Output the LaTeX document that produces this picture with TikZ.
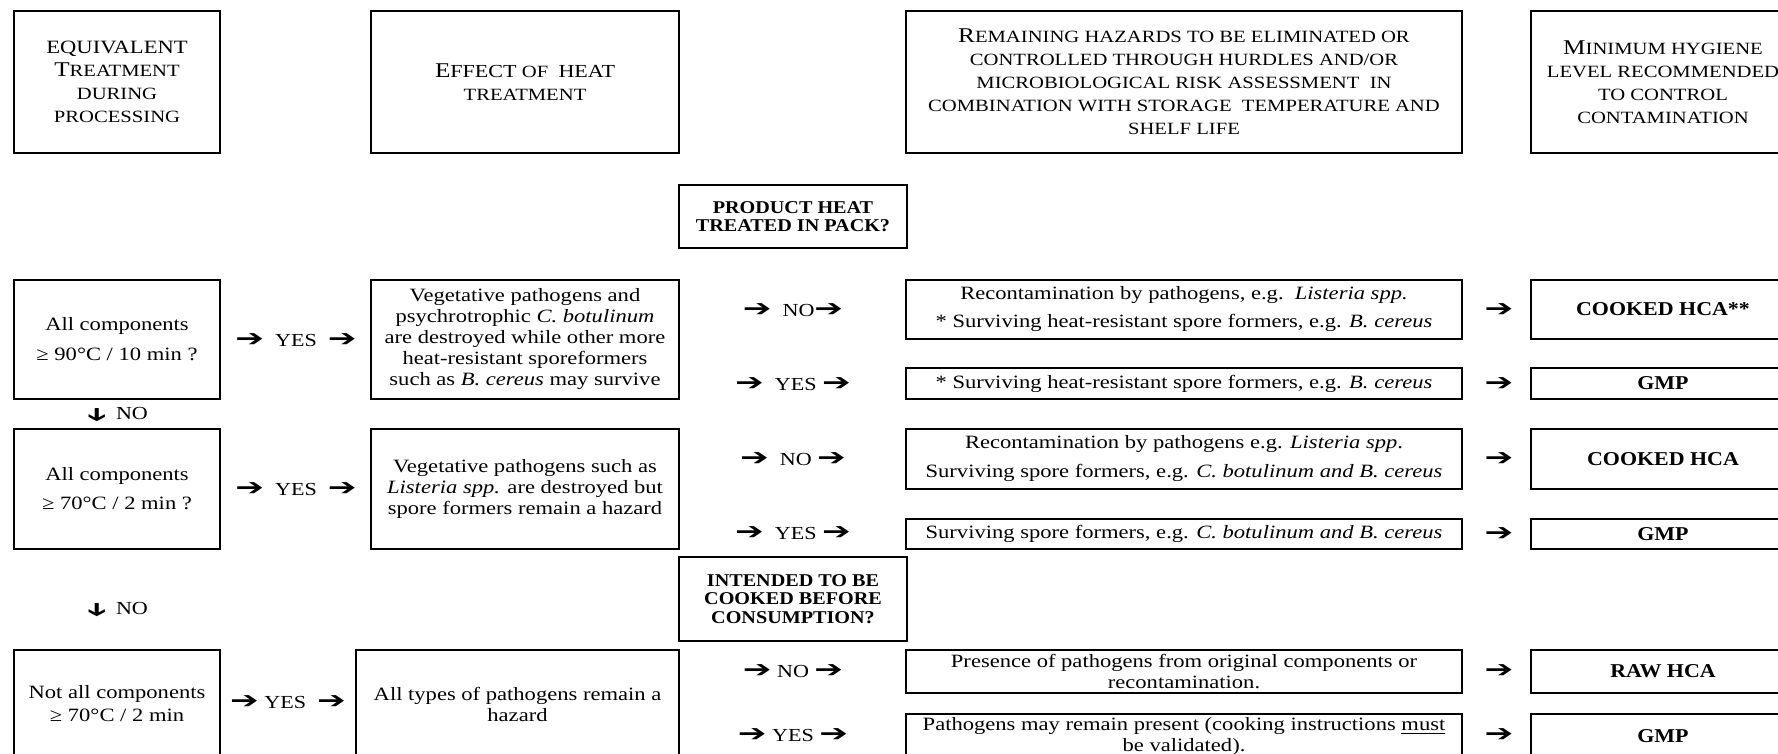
\documentclass[tikz,border=0pt]{standalone}
\usepackage{fontspec}
\usepackage{graphicx}
\setmainfont[FakeStretch=1.2]{Liberation Serif}
\newfontfamily\boldf[FakeStretch=1.12]{Liberation Serif}
\newfontfamily\symf{DejaVu Sans}
\newcommand{\ra}{\scalebox{1.9}[1.3]{\symf\fontsize{9}{10}\selectfont ➔}}
\newcommand{\da}{\raisebox{-2.6pt}{\rotatebox[origin=c]{-90}{\scalebox{1.0}[1.9]{\symf\fontsize{9}{10}\selectfont ➔}}}}
\newcommand{\bigi}[1]{{\fontsize{10.5}{11.5}\selectfont #1}}
\begin{document}
\begin{tikzpicture}[x=0.5pt,y=-0.5pt,
 box/.style={draw,line width=1.1pt,align=center,inner sep=1pt},
 hdr/.style={box,font=\fontsize{8.6}{11.5}\selectfont},
 txt/.style={box,font=\fontsize{9.4}{10.5}\selectfont},
 ques/.style={box,font=\boldf\bfseries\fontsize{9}{9}\selectfont},
 lvl/.style={box,font=\boldf\bfseries\fontsize{9.8}{11}\selectfont},
 lab/.style={align=center,inner sep=0pt,font=\fontsize{9.2}{10.5}\selectfont}]
\useasboundingbox (0,0) rectangle (1778,754);
\clip (0,0) rectangle (1778,754);
\fill[white] (0,0) rectangle (1778,754);

% headers
\node[hdr,minimum width=103pt,minimum height=71pt] (hA) at (117,82) {{\fontsize{9.4}{11.5}\selectfont EQUIVALENT}\\\bigi{T}REATMENT\\DURING\\PROCESSING};
\node[hdr,minimum width=154pt,minimum height=71pt] (hB) at (525,82) {\bigi{E}{\fontsize{9.2}{11.5}\selectfont FFECT} OF\ \ {\fontsize{9.2}{11.5}\selectfont HEAT}\\TREATMENT};
\node[hdr,minimum width=278pt,minimum height=71pt] (hH) at (1184,82) {\bigi{R}EMAINING HAZARDS TO BE ELIMINATED OR\\CONTROLLED THROUGH HURDLES AND/OR\\MICROBIOLOGICAL RISK ASSESSMENT\ \ IN\\COMBINATION WITH STORAGE\ \ TEMPERATURE AND\\SHELF LIFE};
\node[hdr,minimum width=132pt,minimum height=71pt] (hM) at (1663,82) {\bigi{M}INIMUM HYGIENE\\LEVEL RECOMMENDED\\TO CONTROL\\CONTAMINATION};

% question 1
\node[ques,minimum width=114pt,minimum height=31.5pt] (q1) at (793,216.5) {PRODUCT HEAT\\TREATED IN PACK?};

% row 1
\node[txt,font=\fontsize{9.4}{15}\selectfont,minimum width=103pt,minimum height=59.5pt] (a1) at (117,339.5) {All components\\≥ 90°C / 10 min ?};
\node[lab] (y1) at (296,340) {\ra\ \ YES\ \ \ra};
\node[txt,minimum width=154pt,minimum height=59.5pt] (b1) at (525,339.5) {Vegetative pathogens and\\psychrotrophic \textit{C. botulinum}\\are destroyed while other more\\heat-resistant sporeformers\\such as \textit{B. cereus} may survive};
\node[lab] (n1a) at (793,310) {\ra\ \ NO\ra};
\node[lab] (y1b) at (793,384) {\ra\ \ YES \ra};
\node[txt,font=\fontsize{9.4}{14}\selectfont,minimum width=278pt,minimum height=29.5pt] (h1a) at (1184,309.5) {Recontamination by pathogens, e.g.\ \ \textit{Listeria spp.}\\* Surviving heat-resistant spore formers, e.g. \textit{B. cereus}};
\node[txt,minimum width=278pt,minimum height=15.5pt] (h1b) at (1184,383.5) {* Surviving heat-resistant spore formers, e.g. \textit{B. cereus}};
\node[lab] (r1a) at (1499,310) {\ra};
\node[lab] (r1b) at (1499,384) {\ra};
\node[lvl,minimum width=132pt,minimum height=29.5pt] (m1a) at (1663,309.5) {COOKED HCA**};
\node[lvl,minimum width=132pt,minimum height=15.5pt] (m1b) at (1663,383.5) {GMP};

\node[lab] (d1) at (117,416) {\da\ \ NO};

% row 2
\node[txt,font=\fontsize{9.4}{14.5}\selectfont,minimum width=103pt,minimum height=60pt] (a2) at (117,489) {All components\\≥ 70°C / 2 min ?};
\node[lab] (y2) at (296,489) {\ra\ \ YES\ \ \ra};
\node[txt,minimum width=154pt,minimum height=60pt] (b2) at (525,489) {Vegetative pathogens such as\\\textit{Listeria spp.} are destroyed but\\spore formers remain a hazard};
\node[lab] (n2a) at (793,459) {\ra\ \ NO \ra};
\node[lab] (y2b) at (793,533) {\ra\ \ YES \ra};
\node[txt,font=\fontsize{9.4}{14.5}\selectfont,minimum width=278pt,minimum height=30pt] (h2a) at (1184,459) {Recontamination by pathogens e.g. \textit{Listeria spp}.\\Surviving spore formers, e.g. \textit{C. botulinum and B. cereus}};
\node[txt,minimum width=278pt,minimum height=15pt] (h2b) at (1184,534) {Surviving spore formers, e.g. \textit{C. botulinum and B. cereus}};
\node[lab] (r2a) at (1499,459) {\ra};
\node[lab] (r2b) at (1499,534) {\ra};
\node[lvl,minimum width=132pt,minimum height=30pt] (m2a) at (1663,459) {COOKED HCA};
\node[lvl,minimum width=132pt,minimum height=15pt] (m2b) at (1663,534) {GMP};

% question 2
\node[ques,font=\boldf\bfseries\fontsize{9}{9.3}\selectfont,minimum width=114pt,minimum height=42pt] (q2) at (793,599) {INTENDED TO BE\\COOKED BEFORE\\CONSUMPTION?};
\node[lab] (d2) at (117,611) {\da\ \ NO};

% row 3
\node[txt,font=\fontsize{9.4}{11.5}\selectfont,minimum width=103pt,minimum height=54pt] (a3) at (117,704) {Not all components\\≥ 70°C / 2 min};
\node[lab] (y3) at (288,702) {\ra\ YES\ \ \ra};
\node[txt,minimum width=161.5pt,minimum height=54pt] (b3) at (517.5,704) {All types of pathogens remain a\\hazard};
\node[lab] (n3a) at (793,671) {\ra\ NO \ra};
\node[lab] (y3b) at (793,735) {\ra\ YES \ra};
\node[txt,minimum width=278pt,minimum height=21.5pt] (h3a) at (1184,671.5) {Presence of pathogens from original components or\\recontamination.};
\node[txt,minimum width=278pt,minimum height=22pt] (h3b) at (1184,736) {Pathogens may remain present (cooking instructions \underline{must}\\be validated).};
\node[lab] (r3a) at (1499,671) {\ra};
\node[lab] (r3b) at (1499,735) {\ra};
\node[lvl,minimum width=132pt,minimum height=21.5pt] (m3a) at (1663,671.5) {RAW HCA};
\node[lvl,minimum width=132pt,minimum height=22pt] (m3b) at (1663,736) {GMP};
\end{tikzpicture}
\end{document}
